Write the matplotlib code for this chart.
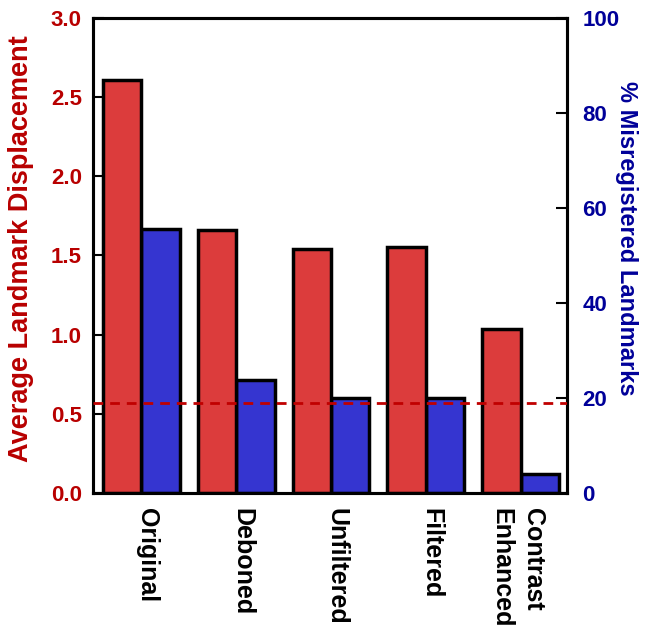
import matplotlib
matplotlib.use('Agg')
import matplotlib.pyplot as plt
import matplotlib.transforms as mtransforms
import numpy as np

plt.rcParams['font.family'] = ['Liberation Sans', 'DejaVu Sans']
plt.rcParams['font.weight'] = 'bold'

# data
methods = ['Original', 'Deboned', 'Unfiltered', 'Filtered', 'Contrast\nEnhanced']
avgDisplacement = [2.61, 1.66, 1.54, 1.55, 1.035]
pctMisregistered = [55.6, 23.8, 20.0, 20.0, 4.0]
threshold = 0.57

redText = '#B80000'
blueText = '#000099'

fig = plt.figure(figsize=(6.46, 6.36), dpi=100)
ax = fig.add_axes([0.144, 0.225, 0.734, 0.747])
ax2 = ax.twinx()

x = np.arange(len(methods))
w = 0.405
ax.bar(x, avgDisplacement, width=-w, align='edge', color='#DC3C3C',
       edgecolor='black', linewidth=2.5, zorder=2)
ax2.bar(x, pctMisregistered, width=w, align='edge', color='#3535D0',
        edgecolor='black', linewidth=2.5, zorder=2)
ax.axhline(threshold, color='#C00000', linestyle=(0, (3.5, 2.5)), linewidth=2, zorder=5)

ax.set_xlim(-0.51, 4.49)
ax.set_ylim(0, 3.0)
ax2.set_ylim(0, 100)
ax.set_yticks([0, 0.5, 1.0, 1.5, 2.0, 2.5, 3.0])
ax.set_yticklabels(['0.0', '0.5', '1.0', '1.5', '2.0', '2.5', '3.0'])
ax2.set_yticks([0, 20, 40, 60, 80, 100])

ax.set_xticks(x + 0.06)
labels = ax.set_xticklabels(methods, rotation=270, fontsize=18, fontweight='bold',
                            va='top', ha='center', multialignment='left',
                            linespacing=1.4)
ax.tick_params(axis='x', length=0, pad=11)
ax.tick_params(axis='y', direction='in', length=8, width=1.5,
               labelsize=16, labelcolor=redText, pad=8)
ax2.tick_params(axis='y', direction='in', length=8, width=1.5,
                labelsize=16, labelcolor=blueText, pad=11)

for a in (ax, ax2):
    for s in a.spines.values():
        s.set_linewidth(2.2)

ax.set_ylabel('Average Landmark Displacement', fontsize=19.5, fontweight='bold',
              color=redText)
ax2.set_ylabel('% Misregistered Landmarks', fontsize=17, fontweight='bold',
               color=blueText, rotation=270, va='center')
ax.yaxis.set_label_coords(-0.125, 0.515)
ax2.yaxis.set_label_coords(1.126, 0.535)

ax.set_zorder(ax2.get_zorder() + 1)
ax.patch.set_visible(False)

# the two-line label sits a bit to the left in the original
fig.canvas.draw()
last = ax.get_xticklabels()[-1]
last.set_transform(last.get_transform() +
                   mtransforms.ScaledTranslation(-0.095, 0, fig.dpi_scale_trans))

fig.savefig('out.png', dpi=100)
